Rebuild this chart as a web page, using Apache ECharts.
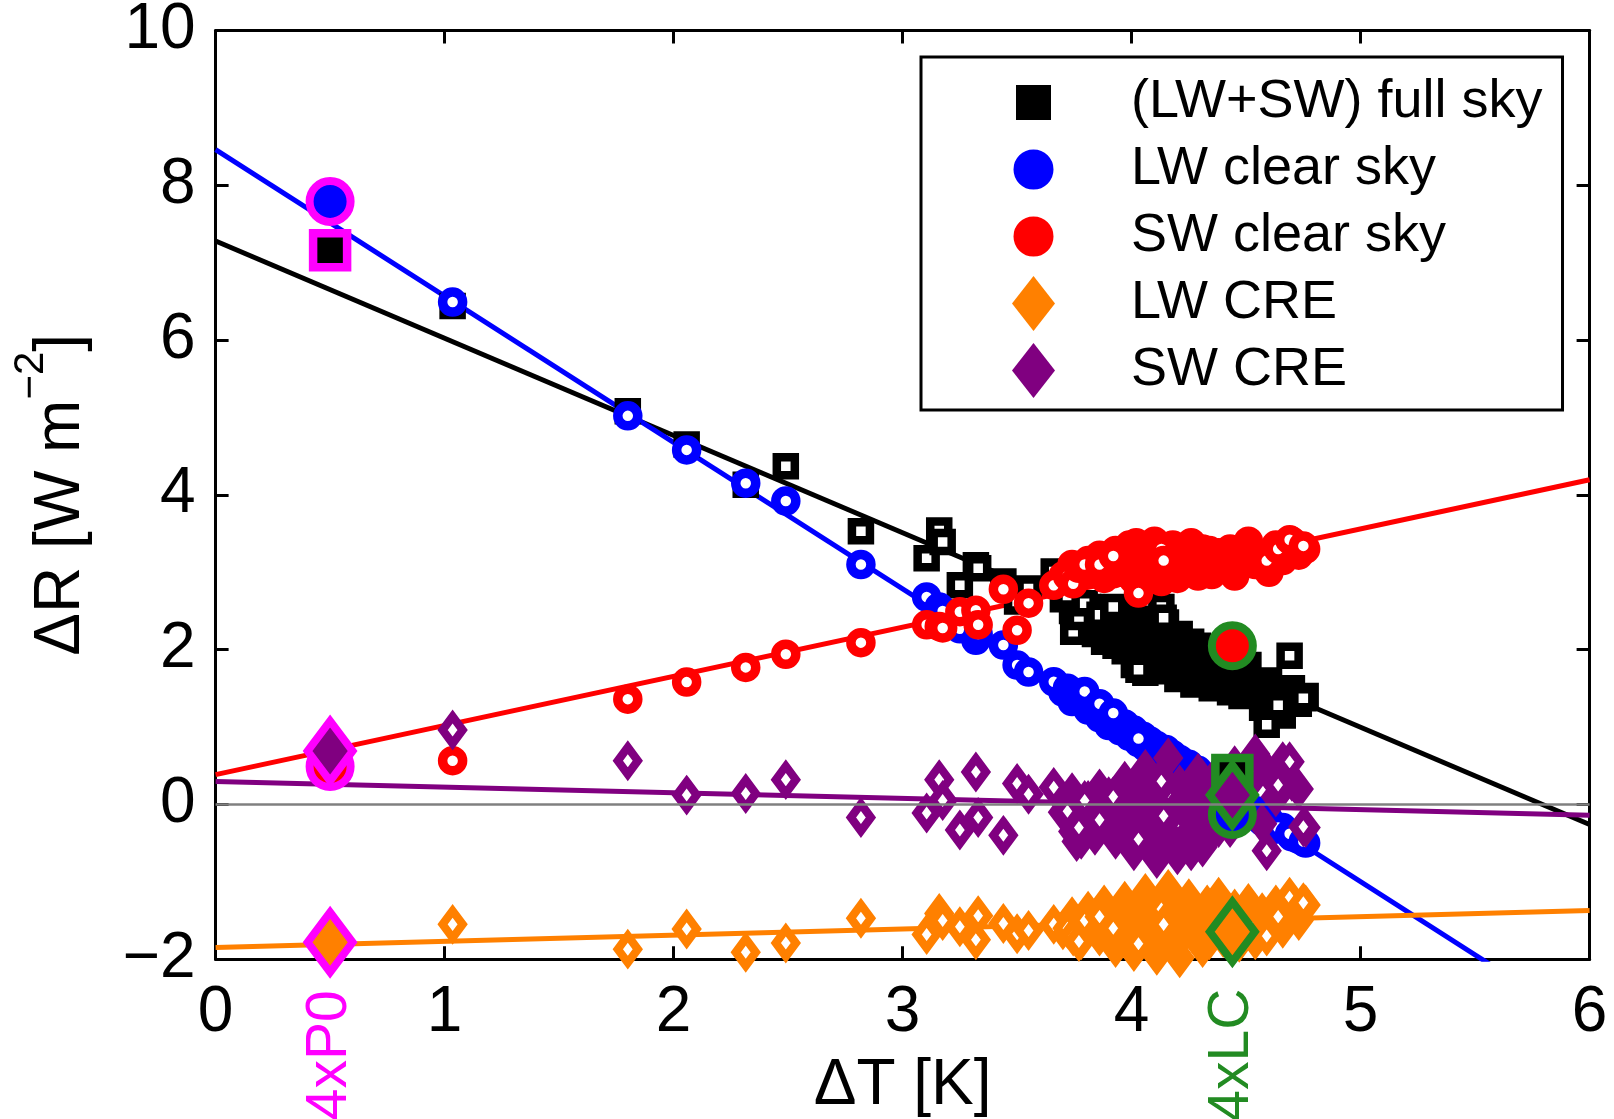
<!DOCTYPE html>
<html>
<head>
<meta charset="utf-8">
<script src="https://cdn.jsdelivr.net/npm/echarts@6/dist/echarts.min.js"></script>
<style>html,body{margin:0;padding:0;background:#fff;}#chart{width:1614px;height:1119px;}</style>
</head>
<body>
<div id="chart"></div>
<script>
// ---------------- data ----------------
const xTicks = [0, 1, 2, 3, 4, 5, 6];
const yTicks = [-2, 0, 2, 4, 6, 8, 10];
const legendNames = ['(LW+SW) full sky', 'LW clear sky', 'SW clear sky', 'LW CRE', 'SW CRE'];

// runs drawn with open markers
const openT     = [1.035, 1.80, 2.057, 2.315, 2.49, 2.818, 3.105, 3.16, 3.175, 3.25, 3.32, 3.33, 3.44, 3.50, 3.55, 3.66, 3.72, 3.745, 3.77, 3.795, 3.86, 3.92, 4.03, 4.13, 4.14, 4.59, 4.64, 4.69, 4.75];
const openFull  = [6.44, 5.08, 4.65, 4.13, 4.37, 3.53, 3.18, 3.54, 3.39, 2.83, 3.09, 3.05, 2.88, 2.62, 2.79, 3.01, 2.70, 2.23, 2.42, 2.60, 2.45, 2.55, 1.74, 2.55, 2.41, 1.03, 1.28, 1.92, 1.37];
const openLW    = [6.49, 5.02, 4.58, 4.15, 3.92, 3.10, 2.68, 2.55, 2.50, 2.27, 2.12, 2.20, 2.06, 1.80, 1.71, 1.585, 1.50, 1.45, 1.40, 1.46, 1.30, 1.18, 0.85, 0.70, 0.62, -0.20, -0.30, -0.38, -0.48];
const openSW    = [0.565, 1.36, 1.58, 1.77, 1.94, 2.09, 2.32, 2.30, 2.28, 2.49, 2.51, 2.32, 2.78, 2.25, 2.60, 2.83, 2.95, 2.85, 3.05, 3.10, 3.10, 3.21, 2.73, 3.30, 3.15, 3.15, 3.30, 3.42, 3.34];
const openLWCRE = [-1.55, -1.87, -1.61, -1.91, -1.79, -1.47, -1.68, -1.41, -1.50, -1.58, -1.75, -1.44, -1.54, -1.67, -1.63, -1.55, -1.60, -1.70, -1.77, -1.50, -1.45, -1.60, -1.80, -1.35, -1.55, -1.70, -1.45, -1.20, -1.27];
const openSWCRE = [0.96, 0.565, 0.12, 0.14, 0.32, -0.17, -0.11, 0.32, 0.05, -0.33, 0.42, -0.17, -0.40, 0.27, 0.13, 0.22, -0.09, -0.35, -0.30, 0.05, -0.20, 0.10, -0.45, 0.30, -0.15, -0.60, 0.25, 0.55, -0.29];

// runs drawn with filled markers (dense ensemble)
const filledT     = [3.70, 3.74, 3.78, 3.81, 3.84, 3.86, 3.88, 3.90, 3.93, 3.95, 3.97, 3.99, 4.01, 4.03, 4.05, 4.06, 4.08, 4.10, 4.11, 4.13, 4.15, 4.16, 4.18, 4.20, 4.21, 4.23, 4.25, 4.27, 4.29, 4.31, 4.33, 4.35, 4.38, 4.40, 4.42, 4.45, 4.48, 4.51, 4.54, 4.57, 4.60, 4.63, 4.66, 4.70, 4.73, 4.76,
                     3.76, 3.92, 3.98, 4.02, 4.07, 4.12, 4.17, 4.22, 4.26, 4.30, 4.34, 4.37, 4.43, 4.47];
const filledFull  = [2.65, 2.50, 2.38, 2.55, 2.20, 2.42, 2.10, 2.32, 2.05, 2.48, 1.98, 2.25, 1.80, 2.40, 2.05, 1.70, 2.30, 1.95, 2.15, 1.75, 2.35, 1.85, 2.00, 1.62, 2.20, 1.80, 1.95, 1.55, 2.05, 1.70, 1.85, 1.50, 1.75, 1.95, 1.55, 1.65, 1.40, 1.80, 1.50, 1.25, 1.60, 1.35, 1.15, 1.50, 1.30, 1.40,
                     2.35, 2.20, 2.05, 2.15, 1.88, 2.05, 1.72, 1.90, 2.10, 1.82, 1.65, 2.00, 1.45, 1.85];
const filledLW    = [1.45, 1.33, 1.36, 1.22, 1.27, 1.12, 1.20, 1.02, 1.10, 0.95, 1.04, 0.88, 0.96, 0.80, 0.88, 0.74, 0.82, 0.70, 0.76, 0.62, 0.71, 0.55, 0.64, 0.50, 0.58, 0.43, 0.52, 0.38, 0.44, 0.30, 0.35, 0.22, 0.20, 0.12, 0.15, 0.02, 0.03, -0.10, -0.08, -0.22, -0.20, -0.32, -0.30, -0.42, -0.45, -0.50,
                     1.40, 1.05, 0.98, 0.85, 0.78, 0.72, 0.60, 0.52, 0.45, 0.36, 0.28, 0.25, 0.10, 0.05];
const filledSW    = [2.95, 3.10, 2.98, 3.15, 3.05, 3.22, 2.92, 3.12, 3.28, 3.00, 3.18, 3.35, 2.90, 3.22, 3.10, 3.30, 2.95, 3.40, 3.15, 2.88, 3.25, 3.05, 3.35, 2.92, 3.18, 3.32, 3.00, 3.22, 2.95, 3.30, 3.10, 2.97, 3.25, 3.05, 3.18, 2.95, 3.28, 3.40, 3.10, 3.20, 3.00, 3.35, 3.15, 3.40, 3.22, 3.30,
                     3.02, 2.98, 3.05, 3.38, 3.12, 3.00, 3.20, 3.05, 3.38, 3.15, 3.28, 3.02, 3.30, 3.12];
const filledLWCRE = [-1.62, -1.45, -1.75, -1.38, -1.58, -1.70, -1.30, -1.52, -1.85, -1.40, -1.25, -1.65, -1.90, -1.35, -1.55, -1.15, -1.72, -1.45, -1.95, -1.28, -1.60, -1.10, -1.80, -1.38, -1.98, -1.50, -1.22, -1.68, -1.42, -1.85, -1.30, -1.58, -1.20, -1.72, -1.45, -1.35, -1.62, -1.28, -1.75, -1.40, -1.55, -1.30, -1.60, -1.35, -1.50, -1.30,
                     -1.55, -1.65, -1.45, -1.58, -1.30, -1.62, -1.45, -1.70, -1.50, -1.60, -1.75, -1.45, -1.55, -1.78];
const filledSWCRE = [-0.10, 0.15, -0.45, 0.05, -0.40, 0.20, -0.15, 0.10, -0.45, 0.00, 0.30, -0.30, -0.60, 0.15, -0.20, 0.45, -0.50, 0.05, -0.70, 0.35, -0.35, 0.60, -0.10, -0.65, 0.25, -0.45, 0.10, -0.25, 0.40, -0.55, 0.00, 0.30, -0.30, 0.15, -0.15, 0.50, -0.05, 0.25, 0.65, -0.25, 0.40, 0.10, 0.55, 0.30, 0.20, -0.30,
                     -0.48, -0.25, 0.20, -0.05, -0.35, 0.20, -0.50, 0.00, -0.60, 0.15, -0.40, 0.05, -0.30, 0.30];

// highlighted scenarios
const scenarioLabels = ['4xP0', '4xLC'];
const scenarioX      = [0.50, 4.44];
const scenarioFull   = [7.16, 0.38];
const scenarioLW     = [7.79, -0.13];
const scenarioSW     = [0.49, 2.05];
const scenarioLWCRE  = [-1.78, -1.645];
const scenarioSWCRE  = [0.69, 0.12];

// regression lines: end points at dT = 0 and dT = 6
const fitT     = [0, 6];
const fitFull  = [7.28, -0.26];
const fitLW    = [8.46, -2.89];
const fitSW    = [0.384, 4.194];
const fitLWCRE = [-1.85, -1.37];
const fitSWCRE = [0.297, -0.14];
const zeroLine = [0, 0];

// ---------------- styling ----------------
const FONT = '"Liberation Sans", Arial, Helvetica, sans-serif';
const COL = { full: '#000000', lw: '#0000ff', sw: '#ff0000', lwcre: '#ff8000', swcre: '#800080', zero: '#808080' };
const scenarioColors = ['#ff00ff', '#228b22'];

function pts(t, v) { return t.map((x, i) => [x, v[i]]); }

const groups = [
  { name: legendNames[0], color: COL.full,  symbol: 'rect',    size: 18,       bw: 8.5, bigSize: 34,       bigBorder: 8.5, open: openFull,  filled: filledFull,  sc: scenarioFull,  fit: fitFull,
    legendIcon: 'path://M0,0L10,0L10,10L0,10Z', legendBorder: 8 },
  { name: legendNames[1], color: COL.lw,    symbol: 'circle',  size: 20,       bw: 9.5, bigSize: 41,       bigBorder: 8, open: openLW,    filled: filledLW,    sc: scenarioLW,    fit: fitLW,
    legendIcon: 'circle', legendBorder: 3 },
  { name: legendNames[2], color: COL.sw,    symbol: 'circle',  size: 20,       bw: 9.5, bigSize: 41,       bigBorder: 8, open: openSW,    filled: filledSW,    sc: scenarioSW,    fit: fitSW,
    legendIcon: 'circle', legendBorder: 3 },
  { name: legendNames[3], color: COL.lwcre, symbol: 'diamond', size: [20, 27], bw: 8.5, bigSize: [45, 60], bigBorder: 8, open: openLWCRE, filled: filledLWCRE, sc: scenarioLWCRE, fit: fitLWCRE,
    legendIcon: 'path://M43,0L86,55L43,110L0,55Z', legendBorder: 0 },
  { name: legendNames[4], color: COL.swcre, symbol: 'diamond', size: [20, 27], bw: 8.5, bigSize: [45, 60], bigBorder: 8, open: openSWCRE, filled: filledSWCRE, sc: scenarioSWCRE, fit: fitSWCRE,
    legendIcon: 'path://M43,0L86,55L43,110L0,55Z', legendBorder: 0 }
];

const series = [];
// regression lines (bottom layer)
groups.forEach((g, i) => {
  series.push({
    type: 'line', name: 'fit' + i, data: pts(fitT, g.fit), symbol: 'none', showSymbol: false,
    lineStyle: { color: g.color, width: 5 }, z: 2, clip: true, silent: true, animation: false,
    emphasis: { disabled: true }
  });
});
// ensemble markers
groups.forEach(g => {
  series.push({
    type: 'scatter', name: g.name, data: pts(filledT, g.filled), symbol: g.symbol, symbolSize: g.size,
    itemStyle: { color: g.color, borderColor: g.color, borderWidth: g.bw, borderJoin: 'miter', borderMiterLimit: 10, opacity: 1 },
    z: 3, silent: true, animation: false, emphasis: { disabled: true }
  });
  series.push({
    type: 'scatter', name: g.name, data: pts(openT, g.open), symbol: g.symbol, symbolSize: g.size,
    itemStyle: { color: '#ffffff', borderColor: g.color, borderWidth: g.bw, borderJoin: 'miter', borderMiterLimit: 10, opacity: 1 },
    z: 3, silent: true, animation: false, emphasis: { disabled: true }
  });
});
// highlighted scenarios
groups.forEach((g, gi) => {
  series.push({
    type: 'scatter', name: 'scenario' + gi, symbol: g.symbol, symbolSize: g.bigSize,
    data: scenarioX.map((x, i) => ({ value: [x, g.sc[i]], itemStyle: { borderColor: scenarioColors[i] } })),
    itemStyle: { color: g.color, borderWidth: g.bigBorder, borderJoin: 'miter', borderMiterLimit: 10, opacity: 1 },
    z: 4, silent: true, animation: false, emphasis: { disabled: true }
  });
});
// zero line on top
series.push({
  type: 'line', name: 'zero', data: pts(fitT, zeroLine), symbol: 'none', showSymbol: false,
  lineStyle: { color: COL.zero, width: 2.5 }, z: 5, silent: true, animation: false, emphasis: { disabled: true }
});

const axisLineStyle = { color: '#000', width: 3 };
const tickStyle = { show: true, inside: true, length: 13, lineStyle: { color: '#000', width: 3 } };
const labelStyle = { fontSize: 64, fontFamily: FONT, color: '#000' };

const xMin = xTicks[0], xMax = xTicks[xTicks.length - 1], xStep = xTicks[1] - xTicks[0];
const yMin = yTicks[0], yMax = yTicks[yTicks.length - 1], yStep = yTicks[1] - yTicks[0];

const option = {
  animation: false,
  backgroundColor: '#ffffff',
  grid: { left: 215.6, right: 24.4, top: 30.4, bottom: 159.8, containLabel: false, outerBoundsMode: 'none' },
  legend: {
    data: groups.map(g => ({ name: g.name, icon: g.legendIcon,
      itemStyle: { color: g.color, borderColor: '#ffffff', borderWidth: g.legendBorder, opacity: 1 } })),
    orient: 'vertical', left: 921, top: 57,
    itemWidth: 43, itemHeight: 55, itemGap: 12, symbolKeepAspect: true,
    padding: [18, 20, 12, 87],
    backgroundColor: '#ffffff', borderColor: '#000000', borderWidth: 3, borderRadius: 0,
    textStyle: { fontSize: 54, lineHeight: 55, fontFamily: FONT, color: '#000', padding: [0, 0, 0, 71] },
    selectedMode: false, z: 10
  },
  xAxis: [
    {
      type: 'value', min: xMin, max: xMax, interval: xStep, position: 'bottom',
      name: 'ΔT [K]', nameLocation: 'middle', nameGap: 127,
      nameTextStyle: { fontSize: 64, fontFamily: FONT, color: '#000', align: 'center', verticalAlign: 'middle' },
      axisLine: { show: true, onZero: false, lineStyle: axisLineStyle },
      axisTick: tickStyle,
      axisLabel: Object.assign({ margin: 22, showMinLabel: true, showMaxLabel: true }, labelStyle),
      splitLine: { show: false }
    },
    {
      type: 'value', min: xMin, max: xMax, interval: xStep, position: 'top',
      axisLine: { show: true, onZero: false, lineStyle: axisLineStyle },
      axisTick: tickStyle, axisLabel: { show: false }, splitLine: { show: false }
    }
  ],
  yAxis: [
    {
      type: 'value', min: yMin, max: yMax, interval: yStep, position: 'left',
      name: '{m|ΔR [W m}{s|−2}{m|]}', nameLocation: 'middle', nameGap: 154, nameRotate: 90,
      nameTextStyle: {
        fontSize: 64, fontFamily: FONT, color: '#000', align: 'center', verticalAlign: 'middle',
        rich: {
          m: { fontSize: 64, fontFamily: FONT, color: '#000', verticalAlign: 'middle' },
          s: { fontSize: 42, fontFamily: FONT, color: '#000', verticalAlign: 'top', padding: [0, 0, 60, 0] }
        }
      },
      axisLine: { show: true, onZero: false, lineStyle: axisLineStyle },
      axisTick: tickStyle,
      axisLabel: Object.assign({ margin: 20, showMinLabel: true, showMaxLabel: true,
        formatter: v => (v < 0 ? '\u2212' + Math.abs(v) : String(v)) }, labelStyle),
      splitLine: { show: false }
    },
    {
      type: 'value', min: yMin, max: yMax, interval: yStep, position: 'right',
      axisLine: { show: true, onZero: false, lineStyle: axisLineStyle },
      axisTick: tickStyle, axisLabel: { show: false }, splitLine: { show: false }
    }
  ],
  series: series
};

const chart = echarts.init(document.getElementById('chart'), null, { renderer: 'canvas', width: 1614, height: 1119 });
chart.setOption(option);

// scenario labels under the x axis, placed through the axis scales
const labelPts = scenarioX.map(x => chart.convertToPixel({ xAxisIndex: 0, yAxisIndex: 0 }, [x, yMin]));
chart.setOption({
  graphic: {
    elements: scenarioLabels.map((t, i) => ({
      type: 'text', x: labelPts[i][0], y: labelPts[i][1] + 96, rotation: Math.PI / 2, silent: true, z: 10,
      style: { text: t, fill: scenarioColors[i], font: '57px "Liberation Sans", Arial, sans-serif',
        align: 'center', verticalAlign: 'middle', textAlign: 'center', textVerticalAlign: 'middle' }
    }))
  }
});
</script>
</body>
</html>
